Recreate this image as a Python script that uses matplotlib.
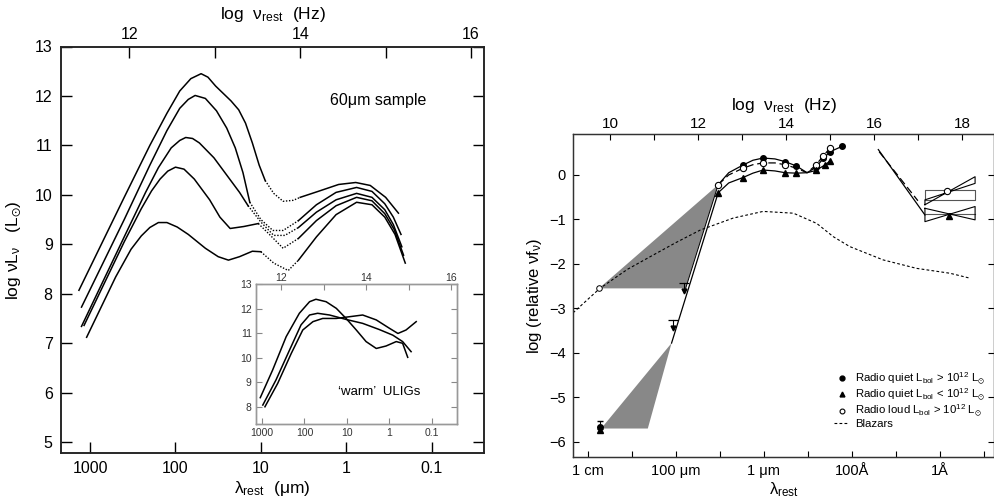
import matplotlib.pyplot as plt
from matplotlib.lines import Line2D

plt.rcParams['font.family'] = ['Liberation Sans', 'DejaVu Sans']
plt.rcParams['mathtext.fontset'] = 'custom'
plt.rcParams['mathtext.rm'] = 'Liberation Sans'
plt.rcParams['mathtext.it'] = 'Liberation Sans:italic'
plt.rcParams['mathtext.default'] = 'regular'

# ---- left panel: 60um sample, x = log10(lambda / um), y = log nuL_nu ----
a_x = [3.13, 2.60, 2.30, 2.10, 1.95, 1.82, 1.70, 1.62, 1.53, 1.44, 1.35, 1.26, 1.18, 1.10, 1.02,
       0.95, 0.85, 0.74, 0.62, 0.54, 0.33, 0.09, -0.11, -0.28, -0.46, -0.61]
a_y = [8.07, 9.95, 11.00, 11.65, 12.10, 12.35, 12.45, 12.38, 12.20, 12.05, 11.90, 11.72, 11.45, 11.05, 10.60,
       10.29, 10.03, 9.87, 9.89, 9.95, 10.07, 10.21, 10.25, 10.19, 9.95, 9.63]
b_x = [3.10, 2.60, 2.30, 2.10, 1.95, 1.85, 1.77, 1.65, 1.52, 1.40, 1.30, 1.21,
       1.13, 1.00, 0.86, 0.74, 0.56, 0.35, 0.12, -0.12, -0.30, -0.45, -0.55, -0.64]
b_y = [7.73, 9.50, 10.60, 11.30, 11.75, 11.93, 12.01, 11.95, 11.70, 11.35, 10.95, 10.45,
       9.85, 9.50, 9.28, 9.28, 9.48, 9.80, 10.05, 10.15, 10.07, 9.82, 9.55, 9.20]
c_x = [3.10, 2.60, 2.35, 2.20, 2.05, 1.95, 1.88, 1.80, 1.72, 1.55, 1.40, 1.25,
       1.15, 1.00, 0.85, 0.72, 0.56, 0.35, 0.12, -0.12, -0.30, -0.45, -0.55, -0.65]
c_y = [7.34, 9.15, 10.05, 10.55, 10.95, 11.10, 11.16, 11.14, 11.05, 10.75, 10.40, 10.05,
       9.78, 9.45, 9.18, 9.18, 9.34, 9.65, 9.90, 10.03, 9.95, 9.70, 9.40, 8.95]
d_x = [3.07, 2.60, 2.40, 2.28, 2.18, 2.09, 2.00, 1.90, 1.78, 1.60, 1.48, 1.36, 1.20,
       1.03, 0.90, 0.74, 0.56, 0.35, 0.12, -0.12, -0.30, -0.45, -0.56, -0.67]
d_y = [7.36, 9.05, 9.72, 10.08, 10.32, 10.48, 10.56, 10.52, 10.32, 9.90, 9.55, 9.32, 9.36,
       9.42, 9.20, 8.92, 9.12, 9.48, 9.78, 9.95, 9.88, 9.62, 9.30, 8.78]
e_x = [3.04, 2.70, 2.52, 2.40, 2.30, 2.20, 2.10, 1.98, 1.85, 1.65, 1.50, 1.38, 1.25, 1.10,
       1.00, 0.85, 0.68, 0.56, 0.35, 0.12, -0.12, -0.30, -0.45, -0.57, -0.69]
e_y = [7.12, 8.34, 8.90, 9.17, 9.34, 9.44, 9.44, 9.35, 9.20, 8.92, 8.75, 8.68, 8.75, 8.86,
       8.85, 8.62, 8.47, 8.68, 9.15, 9.60, 9.85, 9.80, 9.55, 9.20, 8.62]
# first and last index of the dotted (interpolated) stretch of each curve
a_dot = (15, 19)
b_dot = (12, 16)
c_dot = (12, 16)
d_dot = (13, 16)
e_dot = (14, 17)

lam_ticks = [3, 2, 1, 0, -1]
lam_labels = ['1000', '100', '10', '1', '0.1']

# ---- inset: warm ULIGs ----
w1_x = [3.04, 2.75, 2.43, 2.12, 1.88, 1.73, 1.49, 1.25, 1.02, 0.78, 0.55, 0.31, 0.08, -0.16, -0.31, -0.43]
w1_y = [8.38, 9.50, 10.86, 11.81, 12.28, 12.38, 12.28, 12.01, 11.60, 11.13, 10.66, 10.38, 10.48, 10.66, 10.59, 10.02]
w2_x = [2.98, 2.67, 2.35, 2.08, 1.88, 1.69, 1.41, 1.02, 0.63, 0.24, -0.08, -0.31, -0.51]
w2_y = [8.08, 9.10, 10.32, 11.34, 11.74, 11.81, 11.74, 11.56, 11.40, 11.15, 10.92, 10.66, 10.25]
w3_x = [2.93, 2.63, 2.31, 2.04, 1.80, 1.57, 1.25, 0.94, 0.63, 0.31, 0.00, -0.20, -0.39, -0.63]
w3_y = [8.01, 8.96, 10.18, 11.13, 11.47, 11.60, 11.60, 11.67, 11.74, 11.54, 11.20, 10.99, 11.13, 11.47]

# ---- right panel: x = log nu_rest, y = log relative nu f_nu ----
rq_hi_nu = [12.46, 12.70, 13.02, 13.25, 13.48, 13.75, 13.98, 14.24, 14.48, 14.68, 14.85, 15.00, 15.27]
rq_hi_y = [-0.22, 0.05, 0.22, 0.33, 0.38, 0.36, 0.30, 0.20, 0.05, 0.17, 0.37, 0.52, 0.64]
rq_hi_marks = [2, 4, 6, 7, 9, 10, 11, 12]
rl_nu = [12.46, 12.70, 13.02, 13.25, 13.48, 13.75, 13.98, 14.24, 14.48, 14.68, 14.85, 15.00]
rl_y = [-0.22, 0.00, 0.15, 0.23, 0.27, 0.27, 0.23, 0.15, 0.05, 0.22, 0.43, 0.60]
rl_marks = [0, 2, 4, 6, 9, 10, 11]
rq_lo_nu = [12.46, 12.70, 13.02, 13.25, 13.48, 13.75, 13.98, 14.24, 14.48, 14.68, 14.88, 15.00]
rq_lo_y = [-0.40, -0.18, -0.06, 0.04, 0.11, 0.09, 0.05, 0.04, 0.05, 0.10, 0.22, 0.31]
rq_lo_marks = [0, 2, 4, 6, 7, 9, 10, 11]

blz_nu = [9.16, 9.77, 10.40, 10.91, 11.50, 12.05, 12.80, 13.48, 14.17, 14.70, 15.08, 15.45, 16.21, 16.97, 17.73, 18.18]
blz_y = [-3.10, -2.55, -2.12, -1.84, -1.52, -1.24, -0.97, -0.82, -0.86, -1.09, -1.39, -1.61, -1.91, -2.10, -2.21, -2.32]

shade_hi_nu = [9.75, 12.46, 11.72]
shade_hi_y = [-2.55, -0.22, -2.55]
shade_lo_nu = [9.80, 11.40, 10.86]
shade_lo_y = [-5.70, -3.78, -5.70]
steep_nu = [12.46, 11.40]
steep_y = [-0.40, -3.78]
edge_nu = [12.46, 11.72]
edge_y = [-0.22, -2.55]

radio_rl = (9.75, -2.55)
radio_rq_hi = (9.77, -5.66)
radio_rq_lo = (9.77, -5.74)
upper_nu = [11.68, 11.43]
upper_y = [-2.43, -3.26]

xr_solid_nu = [16.10, 17.16]
xr_solid_y = [0.57, -0.90]
xr_dash_nu = [16.12, 17.00]
xr_dash_y = [0.52, -0.58]
bow_nu = [17.16, 18.30]
bow_rl_box = [-0.56, -0.34]
bow_rl_left = [-0.67, -0.56]
bow_rl_right = [-0.04, -0.19]
bow_rq_mid = -0.88
bow_rq_left = [-0.75, -1.05]
bow_rq_right = [-1.01, -0.71]
piv_rl = (17.67, -0.35)
piv_rq = (17.71, -0.93)

nu_bottom_major = [9.5, 11.5, 13.5, 15.5, 17.5]
nu_bottom_labels = ['1 cm', '100 μm', '1 μm', '100Å', '1Å']
nu_bottom_minor = [10.5, 12.5, 14.5, 16.5, 18.5]

fig = plt.figure(figsize=(9.95, 5.0), dpi=100)

# ================= left panel =================
ax1 = fig.add_axes([0.0613, 0.094, 0.425, 0.813])
for xs, ys, (i0, i1) in [(a_x, a_y, a_dot), (b_x, b_y, b_dot), (c_x, c_y, c_dot),
                         (d_x, d_y, d_dot), (e_x, e_y, e_dot)]:
    ax1.plot(xs[:i0 + 1], ys[:i0 + 1], color='k', lw=1.1)
    ax1.plot(xs[i0:i1 + 1], ys[i0:i1 + 1], color='k', lw=1.0, ls=(0, (1, 1.2)))
    ax1.plot(xs[i1:], ys[i1:], color='k', lw=1.1)
ax1.set_xlim(3.34, -1.61)
ax1.set_ylim(4.78, 13)
ax1.set_xticks(lam_ticks)
ax1.set_xticklabels(lam_labels)
ax1.set_yticks(range(5, 14))
ax1.tick_params(direction='in', length=8, width=1, labelsize=11.5, right=True, top=False, pad=6)
ax1.set_xlabel('λ$_{rest}$  (μm)', fontsize=12.5, labelpad=2)
ax1.set_ylabel('log νL$_ν$   (L$_{\\odot}$)', fontsize=12.5, labelpad=8)
ax1.text(-0.37, 11.91, '60μm sample', fontsize=11.5, ha='center', va='center')

ax1t = ax1.twiny()
ax1t.set_xlim(14.54 - 3.34, 14.54 + 1.61)
ax1t.set_xticks([12, 14, 16])
ax1t.set_xticks([13, 15], minor=True)
ax1t.tick_params(which='both', direction='in', length=8, width=1, labelsize=11.5, pad=3)
ax1t.set_xlabel('log  ν$_{rest}$  (Hz)', fontsize=12.5, labelpad=6)
for a in (ax1, ax1t):
    for s in a.spines.values():
        s.set_linewidth(1.1)
        s.set_color('#222222')

# ================= inset =================
axi = fig.add_axes([0.2573, 0.152, 0.202, 0.28])
axi.set_facecolor('white')
for xs, ys in [(w1_x, w1_y), (w2_x, w2_y), (w3_x, w3_y)]:
    axi.plot(xs, ys, color='k', lw=1.1)
axi.set_xlim(3.14, -1.59)
axi.set_ylim(7.31, 13)
axi.set_xticks(lam_ticks)
axi.set_xticklabels(lam_labels)
axi.set_yticks(range(8, 14))
axi.tick_params(direction='in', length=4, width=0.8, color='#888888', labelsize=7.5,
                labelcolor='#333333', right=True, top=False, pad=3)
axi.text(1.22, 8.62, '‘warm’  ULIGs', fontsize=9.5, ha='left', va='center')
axit = axi.twiny()
axit.set_xlim(14.55 - 3.14, 14.55 + 1.59)
axit.set_xticks([12, 14, 16])
axit.set_xticks([13, 15], minor=True)
axit.tick_params(which='both', direction='in', length=4, width=0.8, color='#888888',
                 labelsize=7.5, labelcolor='#333333', pad=1)
for a in (axi, axit):
    for s in a.spines.values():
        s.set_linewidth(1.0)
        s.set_color('#999999')

# ================= right panel =================
ax2 = fig.add_axes([0.5759, 0.086, 0.4231, 0.646])
ax2.fill(shade_hi_nu, shade_hi_y, color='#888888', lw=0)
ax2.fill(shade_lo_nu, shade_lo_y, color='#888888', lw=0)
ax2.plot(edge_nu, edge_y, color='k', lw=0.7)
ax2.plot(steep_nu, steep_y, color='k', lw=0.9)
ax2.plot(blz_nu, blz_y, color='k', lw=0.8, ls=(0, (2.5, 2)))

ax2.plot(rq_hi_nu, rq_hi_y, color='k', lw=0.9, marker='o', ms=4, markevery=rq_hi_marks)
ax2.plot(rl_nu, rl_y, color='k', lw=0.9, ls=(0, (6, 3)), marker='o', ms=4.5, mfc='white',
         mew=0.8, markevery=rl_marks)
ax2.plot(rq_lo_nu, rq_lo_y, color='k', lw=0.9, marker='^', ms=4, markevery=rq_lo_marks)

# radio points and upper limits
ax2.plot(*radio_rl, marker='o', ms=4, mfc='white', mec='k', mew=0.7)
ax2.errorbar([radio_rq_hi[0]], [radio_rq_hi[1]], yerr=[[0.05], [0.12]], fmt='o', ms=4,
             color='k', elinewidth=0.8, capsize=2)
ax2.plot(*radio_rq_lo, marker='^', ms=4, color='k')
for n, t in zip(upper_nu, upper_y):
    ax2.plot([n, n], [t, t - 0.17], color='k', lw=0.8)
    ax2.plot(n, t, marker='_', ms=7, color='k', mew=0.9)
    ax2.plot(n, t - 0.17, marker='v', ms=3.5, color='k')

# X-ray
ax2.plot(xr_solid_nu, xr_solid_y, color='k', lw=0.9)
ax2.plot(xr_dash_nu, xr_dash_y, color='k', lw=0.9, ls=(0, (6, 3)))
L, R = bow_nu
ax2.plot([L, R, R, L, L], [bow_rl_box[0], bow_rl_box[0], bow_rl_box[1], bow_rl_box[1], bow_rl_box[0]],
         color='#555555', lw=0.8)
ax2.plot([L, R, R, L, L], [bow_rl_left[0], bow_rl_right[0], bow_rl_right[1], bow_rl_left[1], bow_rl_left[0]],
         color='k', lw=0.8)
ax2.plot([L, R], [bow_rq_mid, bow_rq_mid], color='#555555', lw=0.8)
ax2.plot([L, R, R, L, L], [bow_rq_left[0], bow_rq_right[0], bow_rq_right[1], bow_rq_left[1], bow_rq_left[0]],
         color='k', lw=0.8)
ax2.plot(*piv_rl, marker='o', ms=4.5, mfc='white', mec='k', mew=0.8)
ax2.plot(*piv_rq, marker='^', ms=4, color='k')

ax2.set_xlim(9.16, 18.73)
ax2.set_ylim(-6.34, 0.92)
ax2.set_yticks(range(-6, 1))
ax2.set_xticks(nu_bottom_major)
ax2.set_xticklabels(nu_bottom_labels)
ax2.set_xticks(nu_bottom_minor, minor=True)
ax2.tick_params(which='both', direction='in', length=4, width=0.8, labelsize=10.5,
                right=True, top=False, pad=5)
ax2.set_xlabel('λ$_{rest}$', fontsize=12, labelpad=2)
ax2.set_ylabel('log (relative νf$_ν$)', fontsize=12, labelpad=4)

ax2t = ax2.twiny()
ax2t.set_xlim(9.16, 18.73)
ax2t.set_xticks([10, 12, 14, 16, 18])
ax2t.set_xticks([11, 13, 15, 17], minor=True)
ax2t.tick_params(which='both', direction='in', length=4, width=0.8, labelsize=11, pad=2)
ax2t.set_xlabel('log  ν$_{rest}$  (Hz)', fontsize=12.5, labelpad=5)
for a in (ax2, ax2t):
    for s in a.spines.values():
        s.set_linewidth(0.9)
        s.set_color('#333333')

handles = [
    Line2D([], [], ls='none', marker='o', ms=3.5, color='k'),
    Line2D([], [], ls='none', marker='^', ms=3.5, color='k'),
    Line2D([], [], ls='none', marker='o', ms=3.5, mfc='white', mec='k', mew=0.8),
    Line2D([], [], color='k', lw=0.8, ls=(0, (2.5, 2))),
]
labels = [
    'Radio quiet L$_{bol}$ > 10$^{12}$ L$_{\\odot}$',
    'Radio quiet L$_{bol}$ < 10$^{12}$ L$_{\\odot}$',
    'Radio loud L$_{bol}$ > 10$^{12}$ L$_{\\odot}$',
    'Blazars',
]
ax2.legend(handles, labels, loc='lower right', bbox_to_anchor=(0.995, 0.065), frameon=False,
           fontsize=8.2, handlelength=1.3, handletextpad=0.5, labelspacing=0.0,
           borderpad=0.1)

fig.savefig('out.png', dpi=100)
